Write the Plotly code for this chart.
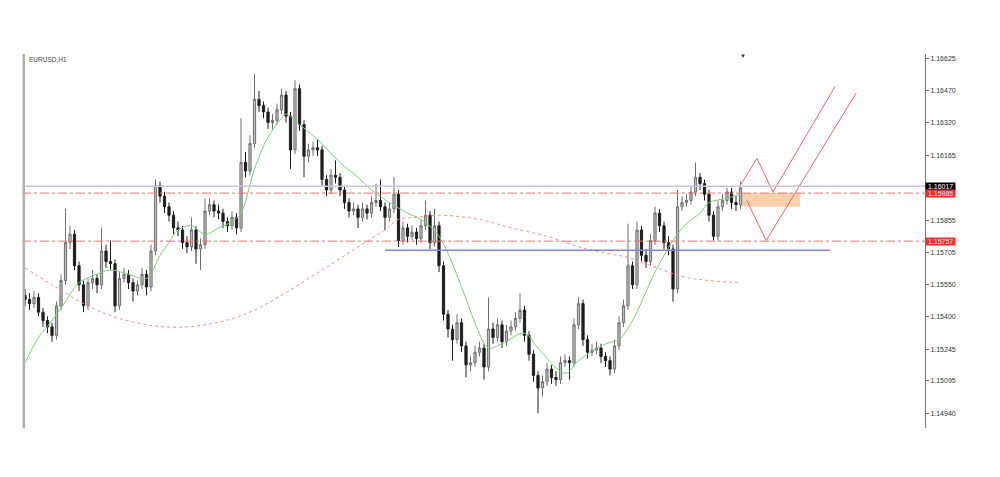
import plotly.graph_objects as go

symbol_label = "EURUSD,H1"

# ---- H1 candles (prices) ----
first_open = 1.1550
close = [
    1.1548, 1.1546, 1.1549, 1.1542, 1.1538, 1.1535, 1.1531, 1.1545, 1.1557, 1.1575,
    1.1579, 1.1564, 1.1555, 1.1545, 1.1556, 1.1558, 1.1555, 1.1571, 1.1566, 1.1565,
    1.1545, 1.1558, 1.1560, 1.1556, 1.1552, 1.1555, 1.1560, 1.1554, 1.1571, 1.1602,
    1.1597, 1.1592, 1.1588, 1.1582, 1.1581, 1.1575, 1.1573, 1.1581, 1.1572, 1.1574,
    1.1590, 1.1593, 1.1590, 1.1589, 1.1585, 1.1583, 1.1587, 1.1582, 1.1613, 1.1609,
    1.1622, 1.1643, 1.1640, 1.1637, 1.1632, 1.1633, 1.1638, 1.1645, 1.1635, 1.1619,
    1.1648, 1.1631, 1.1616, 1.1619, 1.1620, 1.1619, 1.1605, 1.1600, 1.1607, 1.1606,
    1.1600, 1.1594, 1.1590, 1.1591, 1.1587, 1.1591, 1.1589, 1.1594, 1.1595, 1.1592,
    1.1587, 1.1591, 1.1598, 1.1576, 1.1582, 1.1578, 1.1580, 1.1577, 1.1583, 1.1588,
    1.1575, 1.1583, 1.1564, 1.1541, 1.1534, 1.1529, 1.1537, 1.1526, 1.1517, 1.1518,
    1.1523, 1.1525, 1.1516, 1.1534, 1.1530, 1.1536, 1.1528, 1.1533, 1.1535, 1.1539,
    1.1543, 1.1531, 1.1522, 1.1512, 1.1506, 1.1509, 1.1515, 1.1511, 1.1510, 1.1518,
    1.1519, 1.1518, 1.1536, 1.1546, 1.1529, 1.1523, 1.1524, 1.1525, 1.1521, 1.1519,
    1.1515, 1.1526, 1.1537, 1.1545, 1.1564, 1.1555, 1.1581, 1.1569, 1.1566, 1.1576,
    1.1589, 1.1583, 1.1575, 1.1572, 1.1553, 1.1592, 1.1594, 1.1595, 1.1599, 1.1606,
    1.1603, 1.1598, 1.1588, 1.1578, 1.1592, 1.1595, 1.1599, 1.1594, 1.1593, 1.1601,
]
high = [
    1.1553, 1.1551, 1.1552, 1.1551, 1.1544, 1.1540, 1.1537, 1.1547, 1.1560, 1.1591,
    1.1583, 1.1581, 1.1566, 1.1557, 1.1558, 1.1562, 1.1560, 1.1582, 1.1574, 1.1576,
    1.1567, 1.1561, 1.1563, 1.1562, 1.1558, 1.1557, 1.1563, 1.1562, 1.1574, 1.1605,
    1.1604, 1.1599, 1.1594, 1.1590, 1.1585, 1.1583, 1.1578, 1.1587, 1.1583, 1.1577,
    1.1596, 1.1596, 1.1595, 1.1593, 1.1591, 1.1587, 1.1590, 1.1589, 1.1634, 1.1618,
    1.1626, 1.1655, 1.1647, 1.1642, 1.1639, 1.1636, 1.1641, 1.1648, 1.1647, 1.1637,
    1.1652, 1.1650, 1.1633, 1.1622, 1.1623, 1.1624, 1.1621, 1.1607, 1.1610, 1.1614,
    1.1608, 1.1602, 1.1596, 1.1594, 1.1593, 1.1594, 1.1593, 1.1597, 1.1603, 1.1605,
    1.1594, 1.1594, 1.1606, 1.1600, 1.1585, 1.1584, 1.1583, 1.1582, 1.1586, 1.1595,
    1.1590, 1.1591, 1.1585, 1.1566, 1.1543, 1.1536, 1.1541, 1.1539, 1.1528, 1.1521,
    1.1526, 1.1528, 1.1527, 1.1549, 1.1537, 1.1539, 1.1538, 1.1536, 1.1538, 1.1542,
    1.1551, 1.1545, 1.1533, 1.1524, 1.1514, 1.1512, 1.1518, 1.1517, 1.1514, 1.1521,
    1.1522, 1.1521, 1.1539, 1.1549, 1.1548, 1.1531, 1.1527, 1.1528, 1.1527, 1.1523,
    1.1521, 1.1529, 1.1540, 1.1548, 1.1584, 1.1566, 1.1585, 1.1583, 1.1572, 1.1579,
    1.1592, 1.1591, 1.1585, 1.1578, 1.1574, 1.1600, 1.1597, 1.1598, 1.1602, 1.1613,
    1.1608, 1.1605, 1.1600, 1.1590, 1.1595, 1.1598, 1.1601, 1.1601, 1.1597, 1.1604,
]
low = [
    1.1545, 1.1543, 1.1544, 1.1540, 1.1535, 1.1532, 1.1528, 1.1529, 1.1543, 1.1555,
    1.1572, 1.1562, 1.1552, 1.1542, 1.1543, 1.1553, 1.1551, 1.1553, 1.1563, 1.1562,
    1.1542, 1.1543, 1.1556, 1.1553, 1.1547, 1.1550, 1.1553, 1.1550, 1.1552, 1.1569,
    1.1594, 1.1589, 1.1585, 1.1579, 1.1578, 1.1572, 1.1570, 1.1571, 1.1565, 1.1562,
    1.1572, 1.1588, 1.1587, 1.1586, 1.1582, 1.1580, 1.1581, 1.1579, 1.1580, 1.1606,
    1.1607, 1.1620, 1.1637, 1.1634, 1.1629, 1.1629, 1.1631, 1.1636, 1.1632, 1.1610,
    1.1617, 1.1628, 1.1606, 1.1613, 1.1616, 1.1616, 1.1602, 1.1597, 1.1598, 1.1603,
    1.1597, 1.1591, 1.1587, 1.1588, 1.1582, 1.1585, 1.1586, 1.1587, 1.1592, 1.1590,
    1.1581, 1.1585, 1.1589, 1.1573, 1.1574, 1.1575, 1.1576, 1.1574, 1.1575, 1.1581,
    1.1572, 1.1573, 1.1561, 1.1538, 1.1530, 1.1519, 1.1527, 1.1523, 1.1511, 1.1514,
    1.1516, 1.1521, 1.1510, 1.1514, 1.1527, 1.1528, 1.1525, 1.1526, 1.1531, 1.1533,
    1.1537, 1.1528, 1.1519, 1.1509, 1.1494, 1.1502, 1.1507, 1.1508, 1.1507, 1.1508,
    1.1516, 1.1510, 1.1516, 1.1534, 1.1526, 1.1520, 1.1521, 1.1522, 1.1518, 1.1516,
    1.1512, 1.1513, 1.1524, 1.1535, 1.1543, 1.1553, 1.1553, 1.1566, 1.1563, 1.1564,
    1.1574, 1.1580, 1.1572, 1.1569, 1.1547, 1.1551, 1.1590, 1.1592, 1.1593, 1.1597,
    1.1600, 1.1595, 1.1585, 1.1576, 1.1576, 1.1590, 1.1593, 1.1591, 1.1590, 1.1591,
]
open_ = [first_open] + close[:-1]
candle_index = list(range(len(close)))

# ---- moving averages ----
ma_fast_idx = [0, 3, 6, 9, 12, 16, 19, 23, 27, 30, 32, 34, 37, 40, 43, 46, 48, 51, 54, 57,
               58, 61, 65, 70, 74, 77, 81, 85, 88, 92, 97, 100, 103, 106, 111, 114, 120, 123,
               129, 132, 135, 140, 144, 147, 150, 152, 156, 159]
ma_fast = [1.1518, 1.1530, 1.1538, 1.1547, 1.1556, 1.1560, 1.1562, 1.1560, 1.1558, 1.1569,
           1.1575, 1.1581, 1.1583, 1.1579, 1.1582, 1.1585, 1.1589, 1.1610, 1.1625, 1.1634,
           1.1636, 1.1631, 1.1624, 1.1613, 1.1606, 1.1600, 1.1594, 1.1589, 1.1586, 1.1578,
           1.1554, 1.1537, 1.1525, 1.1527, 1.1532, 1.1525, 1.1513, 1.1519, 1.1527, 1.1529,
           1.1538, 1.1561, 1.1576, 1.1584, 1.1589, 1.1594, 1.1596, 1.1598]
ma_slow_idx = [0, 6, 14, 21, 31, 40, 50, 66, 74, 80, 83, 87, 92, 101, 108, 116, 123, 129,
               134, 138, 146, 152, 159]
ma_slow = [1.1563, 1.1555, 1.1545, 1.1539, 1.1535, 1.1536, 1.1542, 1.1562, 1.1573, 1.1581,
           1.1586, 1.1587, 1.1588, 1.1586, 1.1582, 1.1578, 1.1573, 1.1570, 1.1568, 1.1565,
           1.1559, 1.1557, 1.1556]

# ---- levels and drawings ----
bid_price = 1.16017
level_upper = 1.15985
level_lower = 1.15757
support_price = 1.15714
support_span = [80, 178.9]
zone_span = [159, 172.2]
zone_price = [1.15920, 1.15985]
path_a_x = [158.9, 162.7, 166.2, 180.0]
path_a_y = [1.1602, 1.1615, 1.1599, 1.1649]
path_b_x = [160.4, 164.7, 184.7]
path_b_y = [1.1595, 1.1576, 1.1646]

tick_vals = [1.16625, 1.16470, 1.16320, 1.16165, 1.15855, 1.15705, 1.15550,
             1.15400, 1.15245, 1.15095, 1.14940]
tick_text = [f"{v:.5f}" for v in tick_vals]

x_range = [-0.67, 200.0]
y_range = [1.148704, 1.16645]

fig = go.Figure()

fig.add_trace(go.Scatter(x=ma_slow_idx, y=ma_slow, mode="lines", line_shape="spline",
                         line=dict(color="#f29090", width=1, dash="dot"), hoverinfo="skip"))

fig.add_trace(go.Candlestick(
    x=candle_index, open=open_, high=high, low=low, close=close,
    increasing=dict(line=dict(color="#707070", width=1), fillcolor="#bdbdbd"),
    decreasing=dict(line=dict(color="#1e1e1e", width=1), fillcolor="#1e1e1e"),
    whiskerwidth=0,
))

fig.add_trace(go.Scatter(x=ma_fast_idx, y=ma_fast, mode="lines", line_shape="spline",
                         line=dict(color="#84c884", width=1), hoverinfo="skip"))

fig.add_trace(go.Scatter(x=path_a_x, y=path_a_y, mode="lines",
                         line=dict(color="#ec6470", width=1), hoverinfo="skip"))
fig.add_trace(go.Scatter(x=path_b_x, y=path_b_y, mode="lines",
                         line=dict(color="#ec6470", width=1), hoverinfo="skip"))

shapes = [
    dict(type="rect", xref="x", yref="y", x0=zone_span[0], x1=zone_span[1],
         y0=zone_price[0], y1=zone_price[1], fillcolor="#f9c9a0", opacity=0.85,
         line=dict(width=0), layer="below"),
    dict(type="line", xref="paper", yref="y", x0=0, x1=1, y0=bid_price, y1=bid_price,
         line=dict(color="#c8c8d8", width=1.5)),
    dict(type="line", xref="paper", yref="y", x0=0, x1=1, y0=level_upper, y1=level_upper,
         line=dict(color="#ea7272", width=1, dash="dashdot")),
    dict(type="line", xref="paper", yref="y", x0=0, x1=1, y0=level_lower, y1=level_lower,
         line=dict(color="#ea7272", width=1, dash="dashdot")),
    dict(type="line", xref="x", yref="y", x0=support_span[0], x1=support_span[1],
         y0=support_price, y1=support_price, line=dict(color="#8484e8", width=1.5)),
    dict(type="line", xref="paper", yref="paper", x0=0.002, x1=0.002, y0=0, y1=1,
         line=dict(color="#b0b0b0", width=2.5)),
]

annotations = [
    dict(xref="paper", yref="paper", x=0.006, y=0.985, xanchor="left", yanchor="middle",
         text=symbol_label, showarrow=False, font=dict(size=6.5, color="#444", family="Arial")),
    dict(xref="paper", yref="paper", x=0.7985, y=0.995, xanchor="center", yanchor="middle",
         text="▼", showarrow=False, font=dict(size=6, color="#333")),
]
for price, bg in [(bid_price, "#000000"), (level_upper, "#ff2a2a"), (level_lower, "#ff2a2a")]:
    annotations.append(dict(xref="paper", yref="y", x=1.0, y=price, xanchor="left",
                            yanchor="middle", text=f" {price:.5f} ", showarrow=False,
                            bgcolor=bg, borderpad=0,
                            font=dict(size=7, color="#ffffff", family="Arial")))

# the page body adds an 8px offset, so the figure is 8px smaller than the window
fig.update_layout(
    width=992, height=469,
    margin=dict(l=14, r=75, t=46, b=49),
    paper_bgcolor="#ffffff", plot_bgcolor="#ffffff",
    showlegend=False,
    shapes=shapes, annotations=annotations,
    xaxis=dict(range=x_range, showgrid=False, zeroline=False, showticklabels=False,
               showline=False, rangeslider=dict(visible=False), fixedrange=True),
    yaxis=dict(range=y_range, side="right", showgrid=False, zeroline=False,
               tickvals=tick_vals, ticktext=tick_text, ticks="outside", ticklen=3,
               tickcolor="#777", showline=True, linecolor="#777", linewidth=1,
               tickfont=dict(size=7, color="#333", family="Arial")),
)

fig.write_html("out.html")
